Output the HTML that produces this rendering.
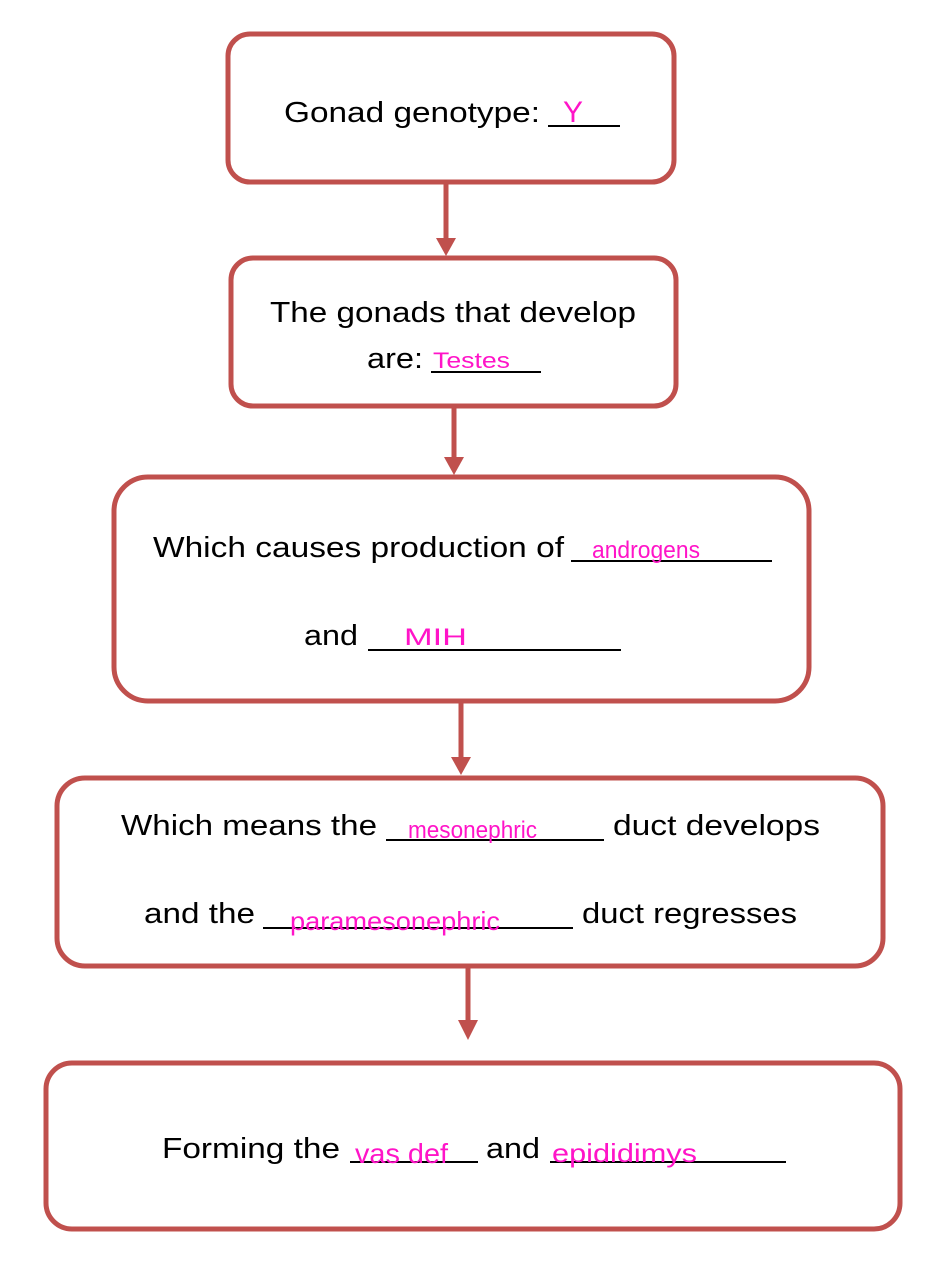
<!DOCTYPE html>
<html><head><meta charset="utf-8"><style>html,body{margin:0;padding:0;background:#fff}svg{display:block}</style></head>
<body>
<svg width="940" height="1277" viewBox="0 0 940 1277" xmlns="http://www.w3.org/2000/svg">
<g fill="none" stroke="#c0504d" stroke-width="5">
<rect x="228" y="34" width="446" height="148" rx="22"/>
<rect x="231" y="258" width="445" height="148" rx="22"/>
<rect x="114" y="477" width="695" height="224" rx="34"/>
<rect x="57" y="778" width="826" height="188" rx="28"/>
<rect x="46" y="1063" width="854" height="166" rx="26"/>
<line x1="446" y1="184" x2="446" y2="242"/>
<line x1="454" y1="408" x2="454" y2="462"/>
<line x1="461" y1="703" x2="461" y2="762"/>
<line x1="468" y1="968" x2="468" y2="1024"/>
</g>
<g fill="#c0504d">
<polygon points="436,238 456,238 446,256"/>
<polygon points="444,457 464,457 454,475"/>
<polygon points="451,757 471,757 461,775"/>
<polygon points="458,1020 478,1020 468,1040"/>
</g>
<g stroke="#000" stroke-width="2">
<line x1="548" y1="126" x2="620" y2="126"/>
<line x1="431" y1="372" x2="541" y2="372"/>
<line x1="571" y1="561" x2="772" y2="561"/>
<line x1="368" y1="650" x2="621" y2="650"/>
<line x1="386" y1="840" x2="604" y2="840"/>
<line x1="263" y1="928" x2="573" y2="928"/>
<line x1="350" y1="1162" x2="478" y2="1162"/>
<line x1="550" y1="1162" x2="786" y2="1162"/>
</g>
<g font-family="Liberation Sans, sans-serif" font-size="29" fill="#000">
<text x="284" y="122" textLength="256" lengthAdjust="spacingAndGlyphs">Gonad genotype:</text>
<text x="270" y="322" textLength="366" lengthAdjust="spacingAndGlyphs">The gonads that develop</text>
<text x="367" y="368" textLength="56" lengthAdjust="spacingAndGlyphs">are:</text>
<text x="153" y="557" textLength="411" lengthAdjust="spacingAndGlyphs">Which causes production of</text>
<text x="304" y="645" textLength="54" lengthAdjust="spacingAndGlyphs">and</text>
<text x="121" y="835" textLength="256" lengthAdjust="spacingAndGlyphs">Which means the</text>
<text x="613" y="835" textLength="207" lengthAdjust="spacingAndGlyphs">duct develops</text>
<text x="144" y="923" textLength="111" lengthAdjust="spacingAndGlyphs">and the</text>
<text x="582" y="923" textLength="215" lengthAdjust="spacingAndGlyphs">duct regresses</text>
<text x="162" y="1158" textLength="178" lengthAdjust="spacingAndGlyphs">Forming the</text>
<text x="486" y="1158" textLength="54" lengthAdjust="spacingAndGlyphs">and</text>
</g>
<g font-family="Liberation Sans, sans-serif" fill="#ff14c8">
<text x="563" y="122" font-size="30" textLength="20" lengthAdjust="spacingAndGlyphs">Y</text>
<text x="433" y="368" font-size="22" textLength="77" lengthAdjust="spacingAndGlyphs">Testes</text>
<text x="592" y="558" font-size="24" textLength="108" lengthAdjust="spacingAndGlyphs">androgens</text>
<text x="404" y="645" font-size="24" textLength="63" lengthAdjust="spacingAndGlyphs">MIH</text>
<text x="408" y="838" font-size="24" textLength="129" lengthAdjust="spacingAndGlyphs">mesonephric</text>
<text x="290" y="930" font-size="26" textLength="210" lengthAdjust="spacingAndGlyphs">paramesonephric</text>
<text x="355" y="1163" font-size="28" textLength="93" lengthAdjust="spacingAndGlyphs">vas def</text>
<text x="552" y="1162" font-size="26" textLength="145" lengthAdjust="spacingAndGlyphs">epididimys</text>
</g>
</svg>
</body></html>
